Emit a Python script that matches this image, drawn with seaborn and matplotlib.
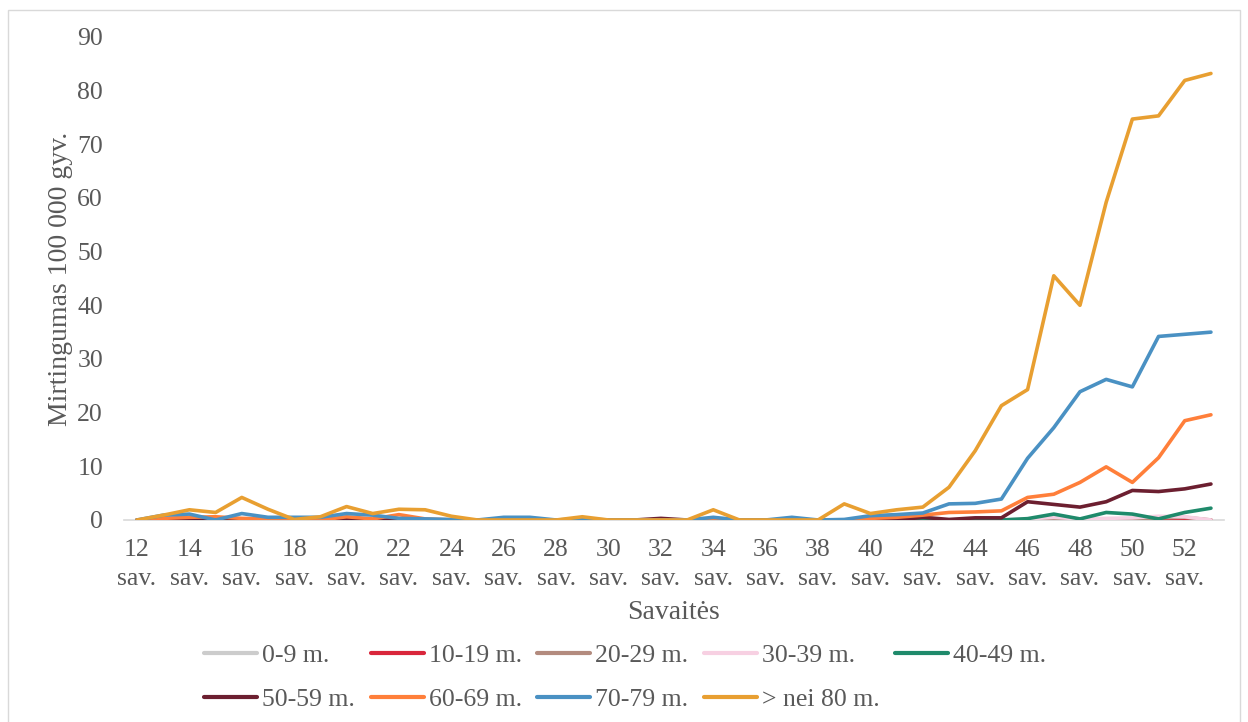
import numpy as np
import pandas as pd
import matplotlib
matplotlib.use("Agg")
import matplotlib.pyplot as plt
from matplotlib.patches import Rectangle
import seaborn as sns

# Weekly mortality per 100 000 population by age group
weeks = list(range(12, 54))

age_groups = ["0-9 m.", "10-19 m.", "20-29 m.", "30-39 m.", "40-49 m.",
              "50-59 m.", "60-69 m.", "70-79 m.", "> nei 80 m."]

g0_9 = [0.0] * 42
g10_19 = [0.0] * 38 + [0.2, 0.3, 0.0, 0.0]
g20_29 = [0.0] * 38 + [0.1, 0.4, 0.5, 0.0]
g30_39 = [0.0] * 34 + [0.2, 0.5, 0.2, 0.3, 0.4, 0.7, 0.6, 0.0]
g40_49 = [0.0] * 34 + [0.25, 1.1, 0.2, 1.4, 1.1, 0.2, 1.4, 2.2]
g50_59 = [0, 0.2, 0.3, 0.2, 0, 0, 0, 0, 0.3, 0,
          0.2, 0, 0, 0, 0, 0, 0, 0, 0, 0,
          0.3, 0, 0, 0, 0, 0, 0, 0, 0, 0,
          0.5, 0.1, 0.4, 0.4, 3.4, 2.9, 2.4, 3.4, 5.5, 5.3, 5.8, 6.7]
g60_69 = [0, 0.3, 0.5, 0.6, 0.3, 0.2, 0, 0, 0.6, 0.2,
          1.0, 0.2, 0, 0, 0, 0, 0, 0, 0, 0,
          0, 0, 0.2, 0, 0, 0, 0, 0, 0.3, 0.5,
          0.9, 1.4, 1.5, 1.7, 4.2, 4.8, 7.0, 9.9, 7.0, 11.6, 18.5, 19.6]
g70_79 = [0, 0.9, 1.1, 0, 1.2, 0.5, 0.5, 0.5, 1.2, 0.9,
          0.3, 0.2, 0.1, 0, 0.5, 0.5, 0, 0.2, 0, 0,
          0, 0, 0.5, 0, 0, 0.5, 0, 0.1, 0.8, 1.0,
          1.3, 3.0, 3.1, 3.9, 11.5, 17.2, 23.9, 26.2, 24.8, 34.2, 34.6, 35.0]
g80_plus = [0, 0.9, 1.9, 1.4, 4.2, 2.0, 0.1, 0.6, 2.5, 1.2,
            2.0, 1.9, 0.7, 0, 0, 0, 0, 0.6, 0, 0,
            0, 0, 1.9, 0, 0, 0, 0, 3.0, 1.2, 1.9,
            2.4, 6.1, 12.9, 21.3, 24.3, 45.5, 40.0, 59.2, 74.7, 75.3, 81.9, 83.2]

series = [g0_9, g10_19, g20_29, g30_39, g40_49, g50_59, g60_69, g70_79, g80_plus]

tick_weeks = list(range(12, 53, 2))
tick_labels = [f"{w}\nsav." for w in tick_weeks]
y_ticks = list(range(0, 91, 10))

colors = ["#cccccc", "#d9263b", "#b38b7e", "#f7d0e2", "#1f8a6b",
          "#6c1f30", "#ff7f3a", "#4a91c3", "#e89f31"]

df = pd.DataFrame({
    "week": np.tile(weeks, len(age_groups)),
    "value": np.concatenate([np.asarray(s, dtype=float) for s in series]),
    "group": np.repeat(age_groups, len(weeks)),
})

sns.set_theme(style="white")
plt.rcParams["font.family"] = ["Liberation Serif", "DejaVu Serif"]
text_color = "#595959"
tick_fs = 18.5

fig = plt.figure(figsize=(12.48, 7.22), dpi=100)
ax = fig.add_axes([0.0993, 0.2798, 0.8815, 0.669])

sns.lineplot(data=df, x="week", y="value", hue="group", hue_order=age_groups,
             palette=colors, linewidth=2.6, ax=ax, legend=True)

ax.set_xlim(11.5, 53.5)
ax.set_ylim(0, 90)
ax.set_xticks(tick_weeks)
ax.set_xticklabels(tick_labels, fontsize=tick_fs, color=text_color, linespacing=1.4)
ax.set_yticks(y_ticks)
ax.set_yticklabels([str(v) for v in y_ticks], fontsize=tick_fs, color=text_color)
ax.tick_params(axis="both", length=0)
ax.tick_params(axis="x", pad=14)
ax.tick_params(axis="y", pad=15)

for side in ["top", "right", "left"]:
    ax.spines[side].set_visible(False)
ax.spines["bottom"].set_color("#d9d9d9")
ax.spines["bottom"].set_linewidth(1.2)
ax.spines["bottom"].set_zorder(0)

ax.set_xlabel("Savaitės", fontsize=20, color=text_color, labelpad=7)
ax.set_ylabel("Mirtingumas 100 000 gyv.", fontsize=20, color=text_color, labelpad=3)

# Row-major legend layout: reorder for matplotlib's column-wise filling
handles, labels = ax.get_legend_handles_labels()
order = [0, 5, 1, 6, 2, 7, 3, 8, 4]
leg = fig.legend([handles[i] for i in order], [labels[i] for i in order],
                 ncol=5, loc="center", bbox_to_anchor=(0.501, 0.062),
                 frameon=False, fontsize=tick_fs, handlelength=2.06,
                 handletextpad=0.2, columnspacing=0.6, labelspacing=0.81)
for t in leg.get_texts():
    t.set_color(text_color)
for h in leg.get_lines():
    h.set_linewidth(3.0)
ax.get_legend().remove()

# Light chart border
fig.patches.append(Rectangle((8 / 1248, -0.01), (1240 - 8) / 1248, (722 - 10) / 722 + 0.01,
                             transform=fig.transFigure, fill=False,
                             edgecolor="#d9d9d9", linewidth=1.0))

fig.savefig("out.png", dpi=100)
